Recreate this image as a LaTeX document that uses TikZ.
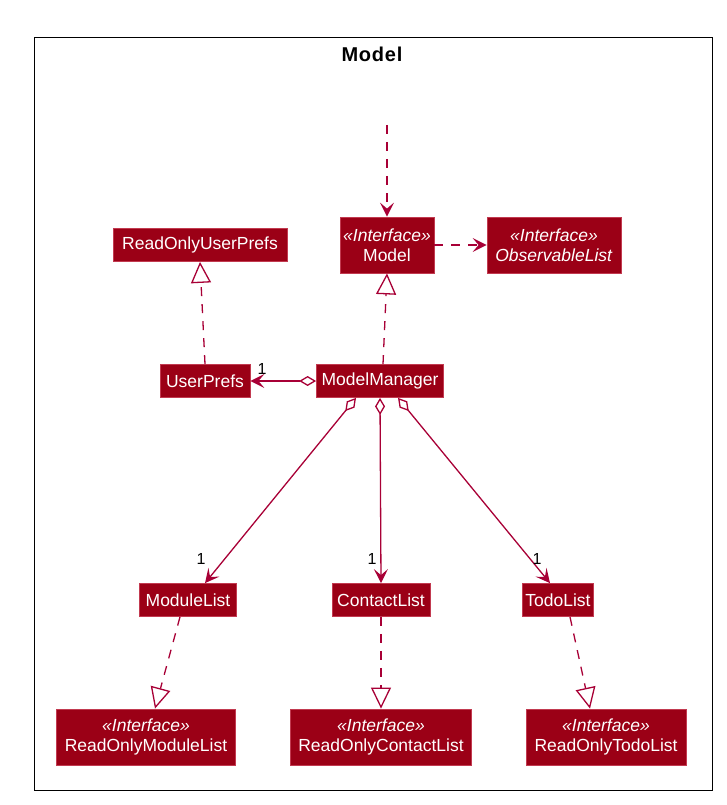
\documentclass[tikz,border=0pt]{standalone}
\usepackage{fontspec}
\setmainfont{Liberation Sans}
\newfontfamily\titlefont[LetterSpace=4]{Liberation Sans}
\usetikzlibrary{arrows.meta}
\definecolor{cfill}{HTML}{9B0016}
\definecolor{cline}{HTML}{A80036}
\definecolor{cborder}{HTML}{C23A50}
\begin{document}
\begin{tikzpicture}[x=1pt,y=-1pt,
  cls/.style={draw=cborder, fill=cfill, text=white, font=\fontsize{17.5}{19.5}\selectfont, inner xsep=3pt, inner ysep=0pt, minimum height=33pt, line width=0.8pt, align=center},
  ifc/.style={cls, minimum height=56pt},
  conn/.style={draw=cline, line width=1.3pt},
  dep/.style={conn, dashed, dash pattern=on 9pt off 8pt, -{Stealth[length=14pt,width=14pt,inset=6pt]}},
  real/.style={conn, dashed, dash pattern=on 9pt off 8pt, -{Triangle[open,length=21pt,width=20pt,fill=white]}},
  agg/.style={conn, {Diamond[open,length=17pt,width=10pt,fill=white]}-{Stealth[length=14pt,width=14pt,inset=6pt]}},
  mult/.style={font=\fontsize{16}{18}\selectfont, text=black, inner sep=0pt}
]
\useasboundingbox (0,0) rectangle (726,805);
\node[draw=black, line width=1.3pt, minimum width=678pt, minimum height=753pt, anchor=north west, inner sep=0pt] (frame) at (34,37) {};
\node[font=\titlefont\bfseries\fontsize{20}{22}\selectfont] (title) at (372,54) {Model};

\node[cls, minimum width=174pt] (roup) at (200,245) {ReadOnlyUserPrefs};
\node[ifc, minimum width=94pt] (model) at (387,245) {\textit{«Interface»}\\Model};
\node[ifc, minimum width=134pt] (obs) at (554,245) {\textit{«Interface»}\\\textit{ObservableList}};
\node[cls, minimum width=90pt] (up) at (205,381) {UserPrefs};
\node[cls, minimum width=127pt] (mm) at (380,381) {ModelManager};
\node[cls, minimum width=97pt] (ml) at (188,600) {ModuleList};
\node[cls, minimum width=98pt] (cl) at (381,600) {ContactList};
\node[cls, minimum width=64pt] (tl) at (558,600) {TodoList};
\node[ifc, minimum width=179pt] (roml) at (146,737) {\textit{«Interface»}\\ReadOnlyModuleList};
\node[ifc, minimum width=181pt] (rocl) at (381,737) {\textit{«Interface»}\\ReadOnlyContactList};
\node[ifc, minimum width=160pt] (rotl) at (606,737) {\textit{«Interface»}\\ReadOnlyTodoList};

\coordinate (src) at (387,125);
\draw[dep] (src) -- (model.north);
\draw[dep] (model.east) -- (obs.west);
\draw[real] (up.north) -- (roup.south);
\draw[real] ([xshift=3pt]mm.north) -- (model.south);
\draw[agg] (mm.west) -- (up.east);
\node[mult] (m1) at (262,369) {1};
\draw[agg] ([xshift=-24pt]mm.south) -- ([xshift=17pt]ml.north);
\draw[agg] (mm.south) -- (cl.north);
\draw[agg] ([xshift=18pt]mm.south) -- ([xshift=-8pt]tl.north);
\node[mult] (m2) at (201,559) {1};
\node[mult] (m3) at (372,559) {1};
\node[mult] (m4) at (537,559) {1};
\draw[real] ([xshift=-8pt]ml.south) -- ([xshift=9pt]roml.north);
\draw[real] (cl.south) -- (rocl.north);
\draw[real] ([xshift=12pt]tl.south) -- ([xshift=-16pt]rotl.north);
\end{tikzpicture}
\end{document}
